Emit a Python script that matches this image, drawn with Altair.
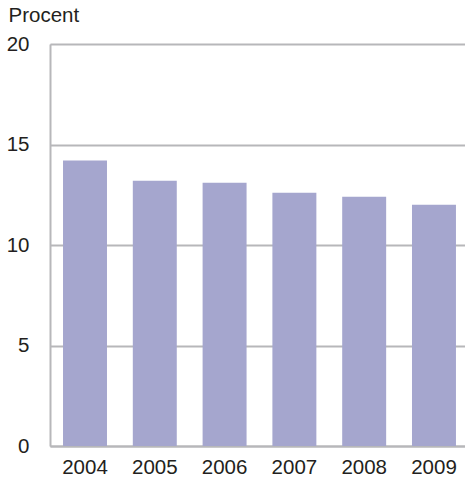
import altair as alt
import pandas as pd

years = ["2004", "2005", "2006", "2007", "2008", "2009"]
values = [14.2, 13.2, 13.1, 12.6, 12.4, 12.0]
y_ticks = [0, 5, 10, 15, 20]

df = pd.DataFrame({"year": years, "value": values})

FONT = "Liberation Sans"
TXT = "#231f20"
GRID = "#b7b7ba"
FS = 20.5

chart = alt.Chart(df).mark_bar(color="#a5a6ce").encode(
    x=alt.X("year:N", sort=years, title=None,
            scale=alt.Scale(paddingInner=0.37, paddingOuter=0.158, align=0.59),
            axis=alt.Axis(labelAngle=0, ticks=False, domainColor=GRID, domainWidth=2,
                          labelFont=FONT, labelFontSize=FS, labelColor=TXT,
                          labelPadding=11)),
    y=alt.Y("value:Q", title="Procent",
            scale=alt.Scale(domain=[0, 20], nice=False),
            axis=alt.Axis(values=y_ticks, ticks=False, grid=True, gridColor=GRID,
                          gridWidth=2, domainColor=GRID, domainWidth=2,
                          labelFont=FONT, labelFontSize=FS, labelColor=TXT,
                          labelPadding=21, labelAlign="right",
                          titleFont=FONT, titleFontSize=FS, titleColor=TXT,
                          titleFontWeight="normal", titleAngle=0,
                          titleAlign="left", titleBaseline="alphabetic",
                          titleX=-42, titleY=-23)),
).properties(
    width=415, height=402,
    autosize=alt.AutoSizeParams(type="none"),
    padding={"left": 50, "top": 44, "right": 0, "bottom": 33},
).configure_view(stroke=None).configure(background="white")

chart.save("out.html", embed_options={"renderer": "svg", "actions": False})
